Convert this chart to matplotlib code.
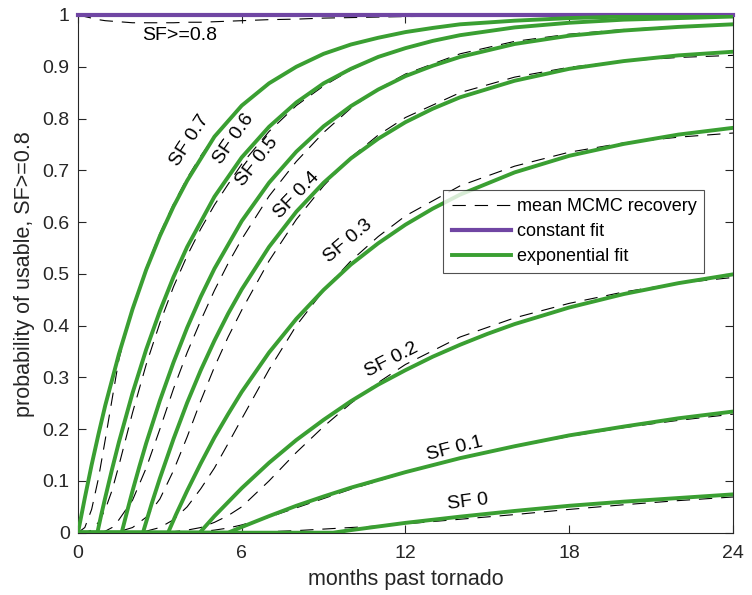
import numpy as np
import matplotlib
matplotlib.use("Agg")
import matplotlib.pyplot as plt

plt.rcParams['font.family'] = ['Liberation Sans', 'DejaVu Sans']

# fitted exponential curves, one list pair per damage level
fit_x = {
    'SF 0.7': [0, 0.25, 0.5, 0.75, 1, 1.5, 2, 2.5, 3, 3.5, 4, 5, 6, 7, 8, 9, 10, 11, 12, 13,
               14, 16, 18, 20, 22, 24],
    'SF 0.6': [0, 0.71, 0.85, 1, 1.25, 1.5, 2, 2.5, 3, 3.5, 4, 5, 6, 7, 8, 9, 10, 11, 12, 13,
               14, 16, 18, 20, 22, 24],
    'SF 0.5': [0, 1.6, 1.8, 2, 2.25, 2.5, 3, 3.5, 4, 4.5, 5, 6, 7, 8, 9, 10, 11, 12, 13, 14,
               16, 18, 20, 22, 24],
    'SF 0.4': [0, 2.38, 2.7, 3, 3.5, 4, 4.5, 5, 5.5, 6, 7, 8, 9, 10, 11, 12, 13, 14, 16, 18,
               20, 22, 24],
    'SF 0.3': [0, 3.3, 3.6, 4, 4.5, 5, 5.5, 6, 7, 8, 9, 10, 11, 12, 13, 14, 16, 18, 20, 22, 24],
    'SF 0.2': [0, 4.46, 5, 6, 7, 8, 9, 10, 11, 12, 13, 14, 15, 16, 18, 20, 22, 24],
    'SF 0.1': [0, 5.5, 6, 7, 8, 9, 10, 12, 14, 16, 18, 20, 22, 24],
    'SF 0':   [0, 9.35, 10, 12, 14, 16, 18, 20, 22, 24],
}
fit_y = {
    'SF 0.7': [0, 0.067, 0.131, 0.19, 0.246, 0.345, 0.432, 0.508, 0.573, 0.630, 0.680, 0.765,
               0.825, 0.868, 0.900, 0.925, 0.943, 0.956, 0.967, 0.975, 0.982, 0.989, 0.994,
               0.997, 0.998, 0.999],
    'SF 0.6': [0, 0, 0.034, 0.068, 0.123, 0.175, 0.270, 0.354, 0.428, 0.494, 0.552, 0.649,
               0.725, 0.784, 0.831, 0.868, 0.896, 0.919, 0.936, 0.950, 0.961, 0.976, 0.985,
               0.991, 0.994, 0.997],
    'SF 0.5': [0, 0, 0.041, 0.081, 0.128, 0.173, 0.255, 0.329, 0.396, 0.456, 0.510, 0.602,
               0.676, 0.736, 0.785, 0.824, 0.856, 0.882, 0.902, 0.919, 0.944, 0.960, 0.970,
               0.977, 0.982],
    'SF 0.4': [0, 0, 0.056, 0.105, 0.181, 0.251, 0.314, 0.371, 0.423, 0.470, 0.552, 0.620,
               0.676, 0.723, 0.761, 0.793, 0.819, 0.841, 0.873, 0.896, 0.911, 0.922, 0.929],
    'SF 0.3': [0, 0, 0.036, 0.081, 0.134, 0.184, 0.229, 0.272, 0.348, 0.413, 0.469, 0.518,
               0.559, 0.595, 0.626, 0.653, 0.696, 0.728, 0.751, 0.769, 0.782],
    'SF 0.2': [0, 0, 0.032, 0.086, 0.135, 0.179, 0.218, 0.254, 0.286, 0.314, 0.340, 0.363,
               0.384, 0.403, 0.435, 0.461, 0.482, 0.499],
    'SF 0.1': [0, 0, 0.011, 0.032, 0.052, 0.070, 0.087, 0.117, 0.144, 0.167, 0.188, 0.205,
               0.221, 0.234],
    'SF 0':   [0, 0, 0.005, 0.019, 0.031, 0.042, 0.052, 0.060, 0.067, 0.074],
}

# mean MCMC recovery, common month grid
mcmc_x = [0, 0.25, 0.5, 0.75, 1, 1.25, 1.5, 2, 2.5, 3, 3.5, 4, 4.5, 5, 5.5, 6, 7, 8, 9, 10,
          11, 12, 14, 16, 18, 20, 22, 24]
mcmc_y = {
    'SF>=0.8': [1, 0.997, 0.994, 0.991, 0.989, 0.988, 0.987, 0.985, 0.985, 0.985, 0.985, 0.986,
                0.986, 0.987, 0.988, 0.989, 0.991, 0.992, 0.994, 0.995, 0.996, 0.997, 0.998,
                0.999, 0.999, 1.0, 1.0, 1.0],
    'SF 0.7': [0, 0.01, 0.045, 0.105, 0.18, 0.258, 0.335, 0.434, 0.512, 0.578, 0.635, 0.685,
               0.728, 0.765, 0.797, 0.825, 0.868, 0.9, 0.925, 0.943, 0.956, 0.967, 0.982,
               0.989, 0.994, 0.997, 0.998, 0.999],
    'SF 0.6': [0, 0, 0.005, 0.02, 0.045, 0.082, 0.13, 0.232, 0.325, 0.405, 0.475, 0.535,
               0.587, 0.633, 0.673, 0.712, 0.775, 0.825, 0.863, 0.894, 0.918, 0.937, 0.962,
               0.976, 0.985, 0.991, 0.994, 0.997],
    'SF 0.5': [0, 0, 0, 0, 0.003, 0.01, 0.025, 0.063, 0.125, 0.2, 0.278, 0.348, 0.41, 0.468,
               0.52, 0.567, 0.65, 0.717, 0.773, 0.82, 0.857, 0.886, 0.925, 0.949, 0.963,
               0.972, 0.978, 0.981],
    'SF 0.4': [0, 0, 0, 0, 0, 0, 0.002, 0.01, 0.03, 0.065, 0.12, 0.185, 0.255, 0.32, 0.378,
               0.43, 0.525, 0.605, 0.67, 0.725, 0.768, 0.802, 0.85, 0.88, 0.899, 0.911, 0.918,
               0.922],
    'SF 0.3': [0, 0, 0, 0, 0, 0, 0, 0, 0.003, 0.01, 0.025, 0.05, 0.085, 0.125, 0.172, 0.22,
               0.315, 0.4, 0.468, 0.525, 0.572, 0.612, 0.67, 0.708, 0.735, 0.753, 0.764, 0.772],
    'SF 0.2': [0, 0, 0, 0, 0, 0, 0, 0, 0, 0, 0.002, 0.005, 0.01, 0.02, 0.033, 0.05, 0.1, 0.155,
               0.205, 0.25, 0.29, 0.325, 0.378, 0.415, 0.443, 0.465, 0.482, 0.493],
    'SF 0.1': [0, 0, 0, 0, 0, 0, 0, 0, 0, 0, 0, 0, 0.002, 0.005, 0.009, 0.015, 0.03, 0.048,
               0.066, 0.084, 0.1, 0.116, 0.143, 0.166, 0.186, 0.203, 0.217, 0.229],
    'SF 0':   [0, 0, 0, 0, 0, 0, 0, 0, 0, 0, 0, 0, 0, 0, 0, 0.001, 0.002, 0.004, 0.007, 0.01,
               0.013, 0.017, 0.026, 0.035, 0.045, 0.054, 0.062, 0.069],
}

const_x = [0, 24]
const_y = [1, 1]

# curve labels: text, position (months, prob), rotation
labels = [
    ('SF>=0.8', 3.72, 0.96, 0),
    ('SF 0.7', 4.1, 0.757, 57),
    ('SF 0.6', 5.7, 0.76, 55),
    ('SF 0.5', 6.55, 0.716, 52),
    ('SF 0.4', 8.0, 0.652, 46),
    ('SF 0.3', 9.9, 0.563, 40),
    ('SF 0.2', 11.5, 0.333, 27),
    ('SF 0.1', 13.8, 0.163, 14),
    ('SF 0', 14.3, 0.06, 7),
]

green = '#3a9f32'
purple = '#7046a3'

fig = plt.figure(figsize=(7.52, 5.95), dpi=100)
ax = fig.add_axes([0.1037, 0.1047, 0.8710, 0.8701])

for i, key in enumerate(mcmc_y):
    ax.plot(mcmc_x, mcmc_y[key], color='k', lw=0.8, linestyle=(0, (12, 8)),
            label='mean MCMC recovery' if i == 0 else None, zorder=2)
ax.plot(const_x, const_y, color=purple, lw=3, label='constant fit', clip_on=False, zorder=3)
for i, key in enumerate(fit_x):
    ax.plot(fit_x[key], fit_y[key], color=green, lw=2.8,
            label='exponential fit' if i == 0 else None, zorder=4)

for txt, x, y, rot in labels:
    ax.text(x, y, txt, fontsize=14, rotation=rot, ha='center', va='center',
            rotation_mode='anchor', zorder=5)

ax.set_xlim(0, 24)
ax.set_ylim(0, 1)
ax.set_xticks([0, 6, 12, 18, 24])
ax.set_yticks(np.arange(0, 1.01, 0.1))
ax.set_yticklabels(['0', '0.1', '0.2', '0.3', '0.4', '0.5', '0.6', '0.7', '0.8', '0.9', '1'])
ax.tick_params(direction='in', top=True, right=True, labelsize=14, length=6, width=0.8,
               colors='#262626')
ax.tick_params(axis='x', pad=9)
ax.tick_params(axis='y', pad=6)
for s in ax.spines.values():
    s.set_color('#262626')
    s.set_linewidth(0.8)
ax.set_xlabel('months past tornado', fontsize=15.5, color='#262626', labelpad=5)
ax.set_ylabel('probability of usable, SF>=0.8', fontsize=15.5, color='#262626', labelpad=5)

leg = ax.legend(loc='upper left', bbox_to_anchor=(0.558, 0.662), fontsize=13,
                frameon=True, fancybox=False, handlelength=3.3, handletextpad=0.3,
                borderpad=0.45, labelspacing=0.45, borderaxespad=0)
leg.get_frame().set_edgecolor('#262626')
leg.get_frame().set_linewidth(0.8)

fig.savefig('out.png', dpi=100)
